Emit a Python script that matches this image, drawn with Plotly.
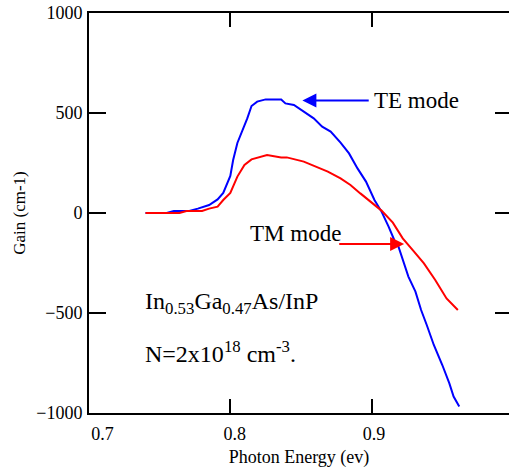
import plotly.graph_objects as go

# TE mode (blue)
te_energy = [0.740, 0.755, 0.760, 0.771, 0.777, 0.785, 0.791, 0.795, 0.800, 0.802, 0.805,
             0.809, 0.812, 0.815, 0.819, 0.825, 0.836, 0.839, 0.845, 0.852, 0.859, 0.865,
             0.871, 0.878, 0.884, 0.890, 0.896, 0.902, 0.907, 0.912, 0.916, 0.919, 0.924,
             0.926, 0.931, 0.935, 0.939, 0.944, 0.950, 0.955, 0.958, 0.962]
te_gain = [0, 0, 10, 10, 22, 40, 68, 100, 185, 265, 350,
           415, 473, 535, 557, 568, 568, 548, 540, 507, 473, 432,
           407, 352, 298, 223, 157, 65, 7, -68, -135, -168, -268,
           -318, -393, -485, -560, -660, -760, -852, -918, -968]

# TM mode (red)
tm_energy = [0.740, 0.764, 0.769, 0.780, 0.785, 0.791, 0.795, 0.800, 0.805, 0.810, 0.815,
             0.821, 0.826, 0.836, 0.840, 0.852, 0.861, 0.869, 0.878, 0.885, 0.892, 0.899,
             0.907, 0.915, 0.922, 0.930, 0.937, 0.945, 0.953, 0.961]
tm_gain = [0, 0, 10, 10, 22, 32, 65, 100, 182, 240, 268,
           282, 290, 278, 278, 257, 232, 207, 173, 140, 98, 57,
           12, -48, -127, -193, -252, -335, -427, -485]

x_ticks = [0.7, 0.8, 0.9]
x_ticktext = ["\u00a0" * 6 + "0.7", "\u00a0\u00a00.8", "\u00a00.9"]
y_ticks = [-1000, -500, 0, 500, 1000]

FONT = "Liberation Serif"

fig = go.Figure()
fig.add_trace(go.Scatter(x=te_energy, y=te_gain, mode="lines",
                         line=dict(color="#0000ff", width=2), showlegend=False))
fig.add_trace(go.Scatter(x=tm_energy, y=tm_gain, mode="lines",
                         line=dict(color="#ff0000", width=2), showlegend=False))

# invisible trace so the right-hand tick axis is drawn
fig.add_trace(go.Scatter(x=[0.75], y=[0], yaxis="y2", mode="markers",
                         marker=dict(opacity=0), showlegend=False, hoverinfo="skip"))

annotations = [
    # TE arrow
    dict(x=0.851, y=562, ax=0.899, ay=562, xref="x", yref="y", axref="x", ayref="y",
         text="", showarrow=True, arrowhead=2, arrowsize=1.4, arrowwidth=2,
         arrowcolor="#0000ff"),
    dict(x=0.9005, y=565, xref="x", yref="y", text="TE mode", showarrow=False,
         xanchor="left", yanchor="middle", font=dict(family=FONT, size=23, color="black")),
    # TM arrow
    dict(x=0.923, y=-155, ax=0.876, ay=-155, xref="x", yref="y", axref="x", ayref="y",
         text="", showarrow=True, arrowhead=2, arrowsize=1.4, arrowwidth=2,
         arrowcolor="#ff0000"),
    dict(x=0.8125, y=-100, xref="x", yref="y", text="TM mode", showarrow=False,
         xanchor="left", yanchor="middle", font=dict(family=FONT, size=23, color="black")),
    dict(x=0.738, y=-450, xref="x", yref="y",
         text="In<sub>0.53</sub>Ga<sub>0.47</sub>As/InP", showarrow=False,
         xanchor="left", yanchor="middle", font=dict(family=FONT, size=24, color="black")),
    dict(x=0.738, y=-695, xref="x", yref="y",
         text="N=2x10<sup>18</sup> cm<sup>-3</sup>.", showarrow=False,
         xanchor="left", yanchor="middle", font=dict(family=FONT, size=24, color="black")),
]

fig.update_layout(
    width=509, height=472,
    margin=dict(l=89, r=0, t=13, b=59, autoexpand=False),
    paper_bgcolor="white", plot_bgcolor="white",
    font=dict(family=FONT, color="black"),
    showlegend=False,
    xaxis=dict(range=[0.7, 0.9972], tickvals=x_ticks, ticktext=x_ticktext,
               ticks="inside", ticklen=14, tickwidth=2, tickcolor="black",
               showline=True, linewidth=2, linecolor="black", mirror="ticks",
               showgrid=False, zeroline=False, ticklabelstandoff=3,
               ticklabeloverflow="allow", automargin=False,
               tickfont=dict(family=FONT, size=18, color="black"),
               title=dict(text="Photon Energy (ev)", standoff=8,
                          font=dict(family=FONT, size=18, color="black"))),
    yaxis=dict(range=[-1000, 1000], tickvals=y_ticks,
               ticks="inside", ticklen=17, tickwidth=2, tickcolor="black",
               showline=True, linewidth=2, linecolor="black",
               showgrid=False, zeroline=False, ticklabelstandoff=1,
               ticklabeloverflow="allow", automargin=False,
               tickfont=dict(family=FONT, size=18, color="black"),
               title=dict(text="Gain (cm-1)", standoff=6,
                          font=dict(family=FONT, size=17, color="black"))),
    yaxis2=dict(range=[-1000, 1000], tickvals=y_ticks, overlaying="y", side="right",
                ticks="inside", ticklen=14, tickwidth=2, tickcolor="black",
                showline=False, showgrid=False, zeroline=False, showticklabels=False,
                automargin=False),
    annotations=annotations,
)

# remove the default 8px page margin so the figure fills the window exactly
fig.write_html("out.html",
               config={"displayModeBar": False},
               post_script="document.body.style.margin='0';document.body.style.overflow='hidden';")
